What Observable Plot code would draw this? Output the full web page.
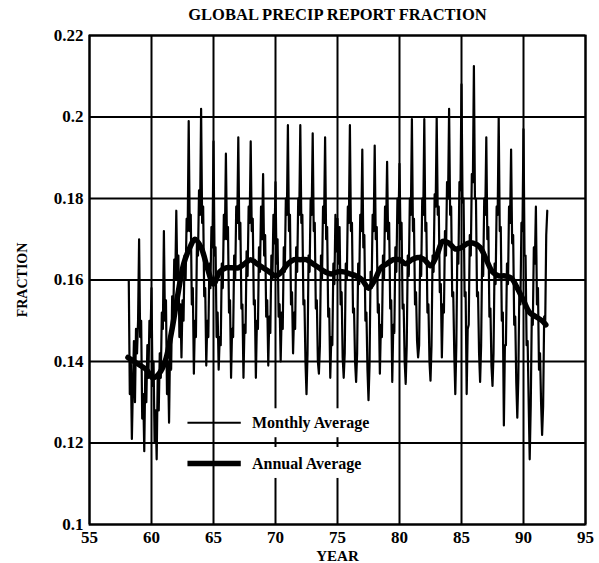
<!DOCTYPE html>
<html>
<head>
<meta charset="utf-8">
<script src="https://cdn.jsdelivr.net/npm/d3@7"></script>
<script src="https://cdn.jsdelivr.net/npm/@observablehq/plot@0.6"></script>
<style>
  html, body { margin: 0; padding: 0; background: #fff; }
  #chart { width: 599px; height: 563px; }
</style>
</head>
<body>
<div id="chart"></div>
<script>
// ---- data ----
const chartTitle = "GLOBAL PRECIP REPORT FRACTION";
const xLabel = "YEAR";
const yLabel = "FRACTION";
const legendNames = ["Monthly Average", "Annual Average"];

const xTicks = [55, 60, 65, 70, 75, 80, 85, 90, 95];
const yTicks = [0.1, 0.12, 0.14, 0.16, 0.18, 0.2, 0.22];
const yTickLabels = ["0.1", "0.12", "0.14", "0.16", "0.18", "0.2", "0.22"];

// Monthly values, first month = March 1958, one row per year (Jan..Dec)
const monthlyStartYear = 1958;
const monthlyStartMonth = 2; // March (0 = January)
const monthlyValues = [
  /*1958*/ 0.160, 0.132, 0.140, 0.121, 0.134, 0.145, 0.130, 0.148, 0.142, 0.150,
  /*1959*/ 0.170, 0.146, 0.150, 0.126, 0.132, 0.118, 0.138, 0.130, 0.144, 0.136, 0.150, 0.146,
  /*1960*/ 0.158, 0.134, 0.140, 0.120, 0.128, 0.116, 0.136, 0.128, 0.142, 0.136, 0.152, 0.148,
  /*1961*/ 0.172, 0.150, 0.155, 0.132, 0.140, 0.125, 0.145, 0.138, 0.156, 0.150, 0.165, 0.160,
  /*1962*/ 0.177, 0.160, 0.166, 0.146, 0.154, 0.141, 0.155, 0.150, 0.166, 0.160, 0.175, 0.172,
  /*1963*/ 0.199, 0.172, 0.176, 0.154, 0.158, 0.137, 0.150, 0.146, 0.170, 0.166, 0.182, 0.176,
  /*1964*/ 0.202, 0.174, 0.178, 0.156, 0.158, 0.139, 0.150, 0.146, 0.164, 0.158, 0.173, 0.168,
  /*1965*/ 0.194, 0.166, 0.168, 0.146, 0.152, 0.138, 0.146, 0.144, 0.164, 0.158, 0.176, 0.170,
  /*1966*/ 0.191, 0.170, 0.173, 0.152, 0.155, 0.136, 0.148, 0.146, 0.166, 0.160, 0.178, 0.174,
  /*1967*/ 0.195, 0.170, 0.174, 0.153, 0.154, 0.136, 0.149, 0.147, 0.167, 0.161, 0.178, 0.174,
  /*1968*/ 0.194, 0.172, 0.175, 0.154, 0.155, 0.136, 0.150, 0.148, 0.168, 0.162, 0.178, 0.170,
  /*1969*/ 0.186, 0.166, 0.171, 0.151, 0.155, 0.139, 0.151, 0.147, 0.166, 0.160, 0.176, 0.169,
  /*1970*/ 0.184, 0.164, 0.170, 0.151, 0.154, 0.140, 0.152, 0.148, 0.168, 0.162, 0.180, 0.176,
  /*1971*/ 0.198, 0.172, 0.176, 0.154, 0.157, 0.142, 0.152, 0.148, 0.168, 0.162, 0.180, 0.176,
  /*1972*/ 0.198, 0.174, 0.176, 0.154, 0.155, 0.140, 0.132, 0.142, 0.166, 0.162, 0.180, 0.176,
  /*1973*/ 0.196, 0.172, 0.174, 0.153, 0.155, 0.140, 0.137, 0.144, 0.166, 0.160, 0.178, 0.174,
  /*1974*/ 0.195, 0.170, 0.173, 0.151, 0.153, 0.136, 0.146, 0.144, 0.164, 0.159, 0.176, 0.167,
  /*1975*/ 0.175, 0.164, 0.173, 0.154, 0.157, 0.141, 0.136, 0.142, 0.164, 0.160, 0.178, 0.174,
  /*1976*/ 0.198, 0.172, 0.174, 0.152, 0.153, 0.140, 0.135, 0.142, 0.164, 0.159, 0.176, 0.172,
  /*1977*/ 0.192, 0.168, 0.171, 0.150, 0.152, 0.138, 0.1305, 0.139, 0.162, 0.158, 0.176, 0.172,
  /*1978*/ 0.193, 0.170, 0.173, 0.152, 0.154, 0.137, 0.149, 0.146, 0.166, 0.160, 0.178, 0.172,
  /*1979*/ 0.189, 0.170, 0.174, 0.153, 0.155, 0.135, 0.149, 0.147, 0.168, 0.162, 0.180, 0.174,
  /*1980*/ 0.1885, 0.170, 0.174, 0.153, 0.154, 0.140, 0.1345, 0.144, 0.166, 0.161, 0.180, 0.176,
  /*1981*/ 0.1995, 0.172, 0.175, 0.154, 0.157, 0.145, 0.141, 0.144, 0.166, 0.161, 0.180, 0.176,
  /*1982*/ 0.1995, 0.172, 0.174, 0.152, 0.154, 0.140, 0.1353, 0.144, 0.166, 0.162, 0.181, 0.178,
  /*1983*/ 0.200, 0.176, 0.178, 0.157, 0.159, 0.141, 0.154, 0.152, 0.172, 0.166, 0.184, 0.180,
  /*1984*/ 0.202, 0.176, 0.178, 0.156, 0.157, 0.142, 0.132, 0.144, 0.168, 0.164, 0.184, 0.182,
  /*1985*/ 0.208, 0.179, 0.180, 0.156, 0.157, 0.132, 0.148, 0.149, 0.171, 0.166, 0.186, 0.184,
  /*1986*/ 0.2125, 0.180, 0.180, 0.156, 0.157, 0.142, 0.135, 0.144, 0.166, 0.161, 0.180, 0.176,
  /*1987*/ 0.195, 0.170, 0.173, 0.151, 0.153, 0.139, 0.134, 0.142, 0.164, 0.159, 0.178, 0.176,
  /*1988*/ 0.200, 0.172, 0.173, 0.150, 0.152, 0.1243, 0.144, 0.144, 0.164, 0.159, 0.178, 0.174,
  /*1989*/ 0.192, 0.169, 0.171, 0.149, 0.151, 0.135, 0.1262, 0.136, 0.158, 0.154, 0.174, 0.172,
  /*1990*/ 0.197, 0.166, 0.166, 0.144, 0.145, 0.130, 0.116, 0.129, 0.151, 0.149, 0.168, 0.164,
  /*1991*/ 0.178, 0.154, 0.158, 0.138, 0.142, 0.130, 0.122, 0.129, 0.151, 0.149, 0.171, 0.177
];

// Annual (12-month) average, read at these times
const annualTimes = [
  58.1, 58.6, 59.1, 59.6, 60.1, 60.6, 61.1, 61.6, 62.1, 62.6, 63.1, 63.5,
  64.0, 64.5, 65.0, 65.5, 66.0, 66.5, 67.0, 67.5, 68.0, 68.5, 69.0, 69.5,
  70.0, 70.5, 71.0, 71.5, 72.0, 72.5, 73.0, 73.5, 74.0, 74.5, 75.0, 75.5,
  76.0, 76.5, 77.0, 77.5, 78.0, 78.5, 79.0, 79.5, 80.0, 80.5, 81.0, 81.5,
  82.0, 82.5, 83.0, 83.5, 84.0, 84.5, 85.0, 85.5, 86.0, 86.5, 87.0, 87.5,
  88.0, 88.5, 89.0, 89.5, 90.0, 90.5, 91.0, 91.5, 91.8
];
const annualValues = [
  0.141, 0.140, 0.139, 0.138, 0.136, 0.137, 0.140, 0.147, 0.156, 0.164, 0.168, 0.170,
  0.168, 0.163, 0.159, 0.162, 0.163, 0.163, 0.163, 0.164, 0.165, 0.164, 0.163, 0.162,
  0.161, 0.162, 0.164, 0.165, 0.165, 0.165, 0.164, 0.163, 0.162, 0.1615, 0.162, 0.162,
  0.1615, 0.161, 0.160, 0.158, 0.160, 0.163, 0.164, 0.165, 0.165, 0.164, 0.165, 0.1655,
  0.165, 0.1635, 0.166, 0.1695, 0.169, 0.1676, 0.168, 0.169, 0.169, 0.168, 0.165, 0.162,
  0.161, 0.161, 0.1605, 0.158, 0.155, 0.152, 0.151, 0.150, 0.149
];

// ---- build tables ----
const monthly = monthlyValues.map((v, i) => ({
  t: monthlyStartYear - 1900 + (monthlyStartMonth + i) / 12,
  v
}));
const annual = annualTimes.map((t, i) => ({t, v: annualValues[i]}));

const serif = "'Liberation Serif', 'DejaVu Serif', serif";

// legend layout (data space)
const legendRows = [
  {name: legendNames[0], y: 0.125, w: 2, box: [0.1213, 0.1284]},
  {name: legendNames[1], y: 0.115, w: 5.5, box: [0.1113, 0.1189]}
];

const chart = Plot.plot({
  width: 599,
  height: 563,
  marginLeft: 89,
  marginRight: 14,
  marginTop: 35,
  marginBottom: 39,
  style: {fontFamily: serif, fontSize: "15px", background: "white", color: "black"},
  x: {domain: [55, 95], ticks: xTicks, label: null},
  y: {domain: [0.1, 0.22], ticks: yTicks, label: null},
  marks: [
    Plot.gridX(xTicks, {stroke: "black", strokeOpacity: 1, strokeWidth: 2}),
    Plot.gridY(yTicks, {stroke: "black", strokeOpacity: 1, strokeWidth: 2}),
    Plot.rect(legendRows, {x1: 68, x2: 78.6, y1: d => d.box[0], y2: d => d.box[1], fill: "white"}),
    Plot.lineY(monthly, {x: "t", y: "v", stroke: "black", strokeWidth: 2.2}),
    Plot.line(annual, {x: "t", y: "v", stroke: "black", strokeWidth: 5.5, curve: "catmull-rom"}),
    Plot.link(legendRows, {x1: 62.9, x2: 67.2, y1: "y", y2: "y", stroke: "black", strokeWidth: d => d.w}),
    Plot.text(legendRows, {x: 68.1, y: "y", text: "name", textAnchor: "start", fontSize: 16, fontWeight: "bold", fontFamily: serif}),
    Plot.frame({stroke: "black", strokeWidth: 2}),
    Plot.axisX(xTicks, {tickSize: 0, tickPadding: 6, fontSize: 17, fontWeight: "bold", fontFamily: serif, label: null}),
    Plot.axisY(yTicks, {tickSize: 0, tickPadding: 6, fontSize: 17, fontWeight: "bold", fontFamily: serif, tickFormat: d => yTickLabels[yTicks.indexOf(d)], label: null}),
    Plot.text([chartTitle], {frameAnchor: "top", dy: -27, fontSize: 16.5, fontWeight: "bold", fontFamily: serif}),
    Plot.text([xLabel], {frameAnchor: "bottom", lineAnchor: "middle", dy: 32, fontSize: 15, fontWeight: "bold", fontFamily: serif}),
    Plot.text([yLabel], {frameAnchor: "left", textAnchor: "middle", lineAnchor: "middle", dx: -67, rotate: -90, fontSize: 14, fontWeight: "bold", fontFamily: serif})
  ]
});
document.getElementById("chart").appendChild(chart);
</script>
</body>
</html>
